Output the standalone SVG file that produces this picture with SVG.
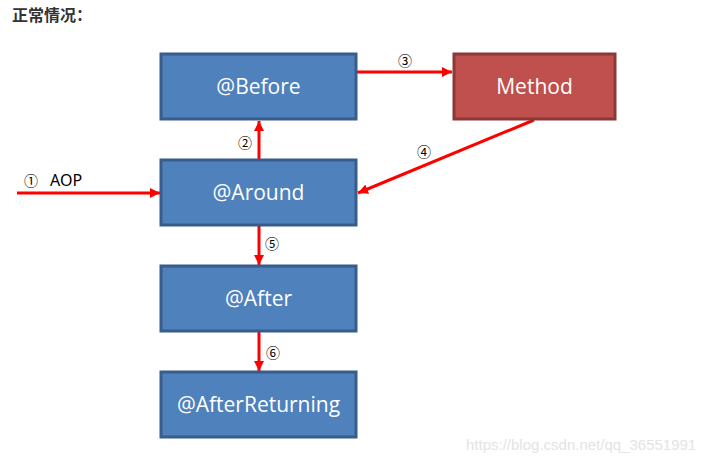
<svg xmlns="http://www.w3.org/2000/svg" width="715" height="464" viewBox="0 0 715 464">
<style>
.blue{fill:#4F81BD;stroke:#385D8A;stroke-width:3}
.red{fill:#C0504D;stroke:#8C3836;stroke-width:3}
.lbl{fill:#fff;font-family:"Open Sans","Noto Sans",sans-serif;font-size:21px;text-anchor:middle}
.num{fill:#000;font-family:"Noto Sans CJK SC","DejaVu Sans",sans-serif;font-size:14px}
.ar{stroke:#FF0000;stroke-width:3;fill:none;marker-end:url(#ah)}
</style>
<defs>
<marker id="ah" markerUnits="userSpaceOnUse" markerWidth="12" markerHeight="10" refX="10" refY="5" orient="auto" viewBox="0 0 12 10">
<path d="M0,0 L10,5 L0,10 Z" fill="#FF0000"/>
</marker>
</defs>
<rect width="715" height="464" fill="#fff"/>
<text x="12" y="21" font-family="Noto Sans CJK SC,sans-serif" font-size="16" font-weight="bold" fill="#333">正常情况：</text>
<g id="connectors">
<line class="ar" x1="17" y1="193" x2="160" y2="193"/>
<line class="ar" x1="259" y1="159" x2="259" y2="121"/>
<line class="ar" x1="357" y1="72" x2="452" y2="72"/>
<line class="ar" x1="534" y1="120" x2="358" y2="193"/>
<line class="ar" x1="259" y1="226" x2="259" y2="265"/>
<line class="ar" x1="259" y1="332" x2="259" y2="371"/>
<text class="num" x="24" y="186">①</text>
<text x="50" y="186" font-family="Noto Sans,sans-serif" font-size="16" fill="#000">AOP</text>
<text class="num" x="238" y="148">②</text>
<text class="num" x="398" y="66">③</text>
<text class="num" x="417" y="157">④</text>
<text class="num" x="265" y="249">⑤</text>
<text class="num" x="266" y="358">⑥</text>
</g>
<g id="before"><rect class="blue" x="161" y="54" width="195" height="65"/><text class="lbl" x="258.5" y="94">@Before</text></g>
<g id="method"><rect class="red" x="454" y="54" width="161" height="65"/><text class="lbl" x="534.5" y="94">Method</text></g>
<g id="around"><rect class="blue" x="161" y="160" width="195" height="65"/><text class="lbl" x="258.5" y="200">@Around</text></g>
<g id="after"><rect class="blue" x="161" y="266" width="195" height="65"/><text class="lbl" x="258.5" y="306">@After</text></g>
<g id="afterReturning"><rect class="blue" x="161" y="372" width="195" height="65"/><text class="lbl" x="258.5" y="412">@AfterReturning</text></g>
<text x="466" y="450" font-family="Liberation Sans,sans-serif" font-size="15" fill="#e4e4e4">https://blog.csdn.net/qq_36551991</text>
</svg>
